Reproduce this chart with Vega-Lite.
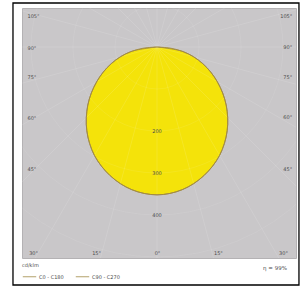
{
  "$schema": "https://vega.github.io/schema/vega-lite/v6.json",
  "width": 274,
  "height": 250,
  "autosize": {"type": "none"},
  "padding": {"left": 22, "top": 8, "right": 10, "bottom": 30},
  "background": "white",
  "config": {
    "view": {"fill": "#c9c7c9", "stroke": "#b4b2b4"},
    "font": "DejaVu Sans",
    "text": {"font": "DejaVu Sans"}
  },
  "datasets": {
    "ldc": [
      {"series": "C90 - C270", "angle": -90, "cd": 0},
      {"series": "C90 - C270", "angle": -80, "cd": 63},
      {"series": "C90 - C270", "angle": -70, "cd": 116},
      {"series": "C90 - C270", "angle": -60, "cd": 166},
      {"series": "C90 - C270", "angle": -50, "cd": 215},
      {"series": "C90 - C270", "angle": -40, "cd": 260},
      {"series": "C90 - C270", "angle": -30, "cd": 298},
      {"series": "C90 - C270", "angle": -20, "cd": 326},
      {"series": "C90 - C270", "angle": -10, "cd": 345},
      {"series": "C90 - C270", "angle": 0, "cd": 352},
      {"series": "C90 - C270", "angle": 10, "cd": 345},
      {"series": "C90 - C270", "angle": 20, "cd": 326},
      {"series": "C90 - C270", "angle": 30, "cd": 298},
      {"series": "C90 - C270", "angle": 40, "cd": 260},
      {"series": "C90 - C270", "angle": 50, "cd": 215},
      {"series": "C90 - C270", "angle": 60, "cd": 166},
      {"series": "C90 - C270", "angle": 70, "cd": 116},
      {"series": "C90 - C270", "angle": 80, "cd": 63},
      {"series": "C90 - C270", "angle": 90, "cd": 0},
      {"series": "C0 - C180", "angle": -90, "cd": 0},
      {"series": "C0 - C180", "angle": -85, "cd": 33},
      {"series": "C0 - C180", "angle": -80, "cd": 63},
      {"series": "C0 - C180", "angle": -75, "cd": 90},
      {"series": "C0 - C180", "angle": -70, "cd": 116},
      {"series": "C0 - C180", "angle": -65, "cd": 141},
      {"series": "C0 - C180", "angle": -60, "cd": 166},
      {"series": "C0 - C180", "angle": -55, "cd": 191},
      {"series": "C0 - C180", "angle": -50, "cd": 215},
      {"series": "C0 - C180", "angle": -45, "cd": 238},
      {"series": "C0 - C180", "angle": -40, "cd": 260},
      {"series": "C0 - C180", "angle": -35, "cd": 280},
      {"series": "C0 - C180", "angle": -30, "cd": 298},
      {"series": "C0 - C180", "angle": -25, "cd": 313},
      {"series": "C0 - C180", "angle": -20, "cd": 326},
      {"series": "C0 - C180", "angle": -15, "cd": 337},
      {"series": "C0 - C180", "angle": -10, "cd": 345},
      {"series": "C0 - C180", "angle": -5, "cd": 350},
      {"series": "C0 - C180", "angle": 0, "cd": 352},
      {"series": "C0 - C180", "angle": 5, "cd": 350},
      {"series": "C0 - C180", "angle": 10, "cd": 345},
      {"series": "C0 - C180", "angle": 15, "cd": 337},
      {"series": "C0 - C180", "angle": 20, "cd": 326},
      {"series": "C0 - C180", "angle": 25, "cd": 313},
      {"series": "C0 - C180", "angle": 30, "cd": 298},
      {"series": "C0 - C180", "angle": 35, "cd": 280},
      {"series": "C0 - C180", "angle": 40, "cd": 260},
      {"series": "C0 - C180", "angle": 45, "cd": 238},
      {"series": "C0 - C180", "angle": 50, "cd": 215},
      {"series": "C0 - C180", "angle": 55, "cd": 191},
      {"series": "C0 - C180", "angle": 60, "cd": 166},
      {"series": "C0 - C180", "angle": 65, "cd": 141},
      {"series": "C0 - C180", "angle": 70, "cd": 116},
      {"series": "C0 - C180", "angle": 75, "cd": 90},
      {"series": "C0 - C180", "angle": 80, "cd": 63},
      {"series": "C0 - C180", "angle": 85, "cd": 33},
      {"series": "C0 - C180", "angle": 90, "cd": 0}
    ],
    "rings": [{"r": 100}, {"r": 200}, {"r": 300}, {"r": 400}, {"r": 500}, {"r": 600}],
    "spokes": [
      {"angle": -165}, {"angle": -150}, {"angle": -135}, {"angle": -120}, {"angle": -105}, {"angle": -90},
      {"angle": -75}, {"angle": -60}, {"angle": -45}, {"angle": -30}, {"angle": -15}, {"angle": 0},
      {"angle": 15}, {"angle": 30}, {"angle": 45}, {"angle": 60}, {"angle": 75}, {"angle": 90},
      {"angle": 105}, {"angle": 120}, {"angle": 135}, {"angle": 150}, {"angle": 165}, {"angle": 180}
    ],
    "ringlabels": [{"r": 200, "label": "200"}, {"r": 300, "label": "300"}, {"r": 400, "label": "400"}],
    "sidelabels": [
      {"label": "105°", "pos": 74},
      {"label": "90°", "pos": 0},
      {"label": "75°", "pos": -71},
      {"label": "60°", "pos": -167},
      {"label": "45°", "pos": -290}
    ],
    "one": [{"note": "η = 99%"}]
  },
  "layer": [
    {
      "data": {"name": "ldc"},
      "transform": [
        {"filter": "datum.series == 'C0 - C180'"},
        {"calculate": "datum.cd * sin(datum.angle * PI / 180)", "as": "x"},
        {"calculate": "-datum.cd * cos(datum.angle * PI / 180)", "as": "y"}
      ],
      "mark": {"type": "line", "fill": "#f4e30a", "strokeWidth": 0, "interpolate": "cardinal", "clip": true},
      "encoding": {
        "x": {"field": "x", "type": "quantitative",
              "scale": {"domain": [-321.43, 330.95], "nice": false, "zero": false},
              "axis": {"orient": "bottom", "values": [-295, -145, 0, 145, 300],
                       "labelExpr": "{'-295':'30°','-145':'15°','0':'0°','145':'15°','300':'30°'}[datum.value]",
                       "domain": false, "ticks": false, "grid": false, "title": null,
                       "labelBaseline": "bottom", "labelPadding": -3, "labelFontSize": 5,
                       "labelColor": "#4a4a4a", "labelFlush": false}},
        "y": {"field": "y", "type": "quantitative",
              "scale": {"domain": [-502.38, 92.86], "nice": false, "zero": false},
              "axis": {"orient": "left", "values": [74, 0, -71, -167, -290],
                       "labelExpr": "{'74':'105°','0':'90°','-71':'75°','-167':'60°','-290':'45°'}[datum.value]",
                       "domain": false, "ticks": false, "grid": false, "title": null,
                       "labelAlign": "left", "labelPadding": -5, "labelFontSize": 5,
                       "labelColor": "#4a4a4a", "labelFlush": false}},
        "order": {"field": "angle", "type": "quantitative"}
      }
    },
    {
      "data": {"name": "rings"},
      "transform": [{"calculate": "0", "as": "cx"}],
      "mark": {"type": "point", "shape": "circle", "filled": false, "stroke": "#ffffff", "strokeOpacity": 0.2, "strokeWidth": 0.6, "clip": true},
      "encoding": {
        "x": {"field": "cx", "type": "quantitative"},
        "y": {"field": "cx", "type": "quantitative"},
        "size": {"field": "r", "type": "quantitative", "legend": null,
                 "scale": {"type": "pow", "exponent": 2, "domain": [0, 600], "range": [0, 254016]}}
      }
    },
    {
      "data": {"name": "spokes"},
      "transform": [
        {"calculate": "0", "as": "cx"},
        {"calculate": "1000 * sin(datum.angle * PI / 180)", "as": "xe"},
        {"calculate": "-1000 * cos(datum.angle * PI / 180)", "as": "ye"}
      ],
      "mark": {"type": "rule", "stroke": "#ffffff", "strokeOpacity": 0.2, "strokeWidth": 0.6, "clip": true},
      "encoding": {
        "x": {"field": "cx", "type": "quantitative"},
        "y": {"field": "cx", "type": "quantitative"},
        "x2": {"field": "xe"},
        "y2": {"field": "ye"}
      }
    },
    {
      "data": {"name": "ldc"},
      "transform": [
        {"calculate": "datum.cd * sin(datum.angle * PI / 180)", "as": "x"},
        {"calculate": "-datum.cd * cos(datum.angle * PI / 180)", "as": "y"}
      ],
      "mark": {"type": "line", "strokeWidth": 0.9, "interpolate": "cardinal", "clip": true},
      "encoding": {
        "x": {"field": "x", "type": "quantitative"},
        "y": {"field": "y", "type": "quantitative"},
        "order": {"field": "angle", "type": "quantitative"},
        "color": {"field": "series", "type": "nominal",
                  "scale": {"domain": ["C0 - C180", "C90 - C270"], "range": ["#a08a45", "#a08a45"]},
                  "legend": {"orient": "none", "legendX": 0, "legendY": 255, "direction": "horizontal",
                             "title": "cd/klm", "titleFontSize": 5, "titleFontWeight": "normal", "titleColor": "#4a4a4a",
                             "titlePadding": 1, "labelFontSize": 5, "labelColor": "#4a4a4a",
                             "symbolType": "stroke", "symbolSize": 180, "symbolStrokeWidth": 0.8,
                             "columnPadding": 10, "labelOffset": 2}}
      }
    },
    {
      "data": {"name": "ringlabels"},
      "transform": [{"calculate": "-datum.r", "as": "y"}, {"calculate": "0", "as": "cx"}],
      "mark": {"type": "text", "fontSize": 5, "color": "#4a4a4a", "baseline": "middle", "align": "center"},
      "encoding": {
        "x": {"field": "cx", "type": "quantitative"},
        "y": {"field": "y", "type": "quantitative"},
        "text": {"field": "label"}
      }
    },
    {
      "data": {"name": "sidelabels"},
      "transform": [{"calculate": "322", "as": "px"}],
      "mark": {"type": "text", "fontSize": 5, "color": "#4a4a4a", "baseline": "middle", "align": "right"},
      "encoding": {
        "x": {"field": "px", "type": "quantitative"},
        "y": {"field": "pos", "type": "quantitative"},
        "text": {"field": "label"}
      }
    },
    {
      "data": {"name": "one"},
      "transform": [{"calculate": "281", "as": "px"}, {"calculate": "-526", "as": "py"}],
      "mark": {"type": "text", "fontSize": 5.5, "color": "#4a4a4a", "align": "center", "baseline": "middle", "clip": false},
      "encoding": {
        "x": {"field": "px", "type": "quantitative"},
        "y": {"field": "py", "type": "quantitative"},
        "text": {"field": "note"}
      }
    },
    {
      "data": {"name": "one"},
      "transform": [
        {"calculate": "-342.9", "as": "fx"}, {"calculate": "338", "as": "fx2"},
        {"calculate": "104.8", "as": "fy"}, {"calculate": "-566.7", "as": "fy2"}
      ],
      "mark": {"type": "rect", "fillOpacity": 0, "stroke": "#000000", "strokeWidth": 1.3, "clip": false},
      "encoding": {
        "x": {"field": "fx", "type": "quantitative"},
        "x2": {"field": "fx2"},
        "y": {"field": "fy", "type": "quantitative"},
        "y2": {"field": "fy2"}
      }
    }
  ]
}
